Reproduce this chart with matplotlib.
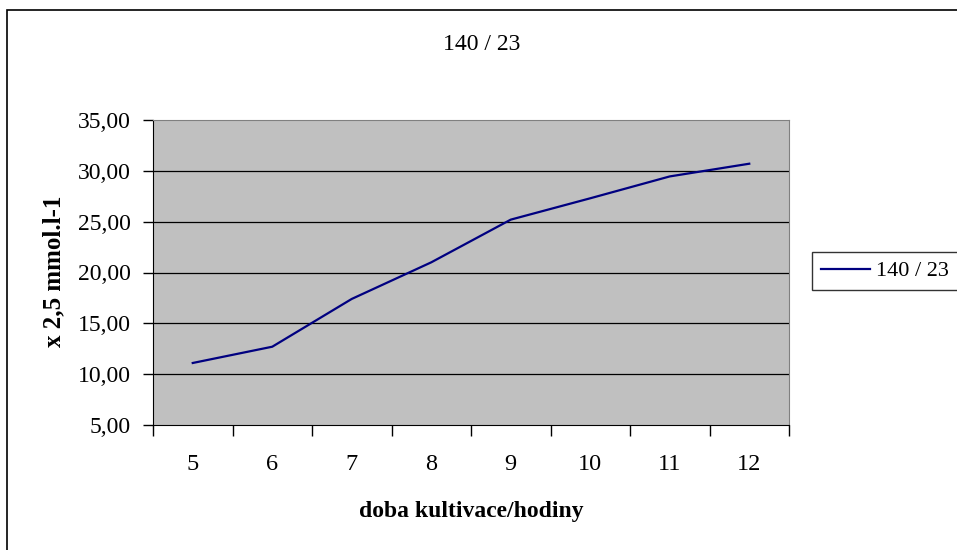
import matplotlib
matplotlib.use("Agg")
import matplotlib.pyplot as plt
from matplotlib.patches import Rectangle
from matplotlib.ticker import FuncFormatter, FixedLocator

hodiny = [5, 6, 7, 8, 9, 10, 11, 12]
hodnoty = [11.1, 12.7, 17.4, 21.0, 25.2, 27.3, 29.45, 30.7]
nazev = "140 / 23"

plt.rcParams['font.family'] = ['Liberation Serif', 'DejaVu Serif']

fig = plt.figure(figsize=(9.57, 5.5), dpi=100)
ax = fig.add_axes([153/957, 1 - 425/550, (789 - 153)/957, (425 - 120)/550])

# chart area border (runs off the right / bottom edge like the original)
fig.patches.append(Rectangle((7/957, -0.1), 1.2, 1 - 10/550 + 0.1, transform=fig.transFigure,
                             fill=False, edgecolor='black', linewidth=1.2))

ax.set_facecolor('#c0c0c0')
x = list(range(len(hodiny)))
ax.plot(x, hodnoty, color='#000080', linewidth=1.6, label=nazev, zorder=3)

ax.set_xlim(-0.5, len(hodiny) - 0.5)
ax.set_ylim(5, 35)
ax.set_yticks(range(5, 36, 5))
ax.yaxis.set_major_formatter(FuncFormatter(lambda v, p: f"{v:.2f}".replace('.', ',')))
for yv in range(10, 35, 5):
    ax.axhline(yv, color='black', linewidth=0.9, zorder=1)

ax.xaxis.set_major_locator(FixedLocator([i - 0.5 for i in range(len(hodiny) + 1)]))
ax.xaxis.set_minor_locator(FixedLocator(x))
ax.set_xticklabels([])
ax.set_xticklabels([str(h) for h in hodiny], minor=True)
ax.tick_params(axis='x', which='major', length=8, width=1, direction='out')
ax.tick_params(axis='x', which='minor', length=0, pad=21, labelsize=17.5)
ax.tick_params(axis='y', length=7, width=1, direction='out', labelsize=17, pad=9)

for s in ['top', 'right']:
    ax.spines[s].set_color('#808080')
ax.spines['left'].set_color('black')
ax.spines['bottom'].set_color('black')

fig.text(471/957, 1 - 512/550, "doba kultivace/hodiny", ha='center', va='center',
         fontsize=17, fontweight='bold')
fig.text(54/957, 1 - 271/550, "x 2,5 mmol.l-1", ha='center', va='center',
         fontsize=18, fontweight='bold', rotation=90)
fig.text(482/957, 1 - 44/550, nazev, ha='center', va='center', fontsize=17)

leg = fig.legend(loc='center left', bbox_to_anchor=(812/957, 1 - 271/550), fontsize=16,
                 frameon=True, fancybox=False, edgecolor='black', handlelength=2.2,
                 borderpad=0.4, handletextpad=0.3, borderaxespad=0)
leg.get_frame().set_linewidth(1)

fig.savefig("out.png", dpi=100)
